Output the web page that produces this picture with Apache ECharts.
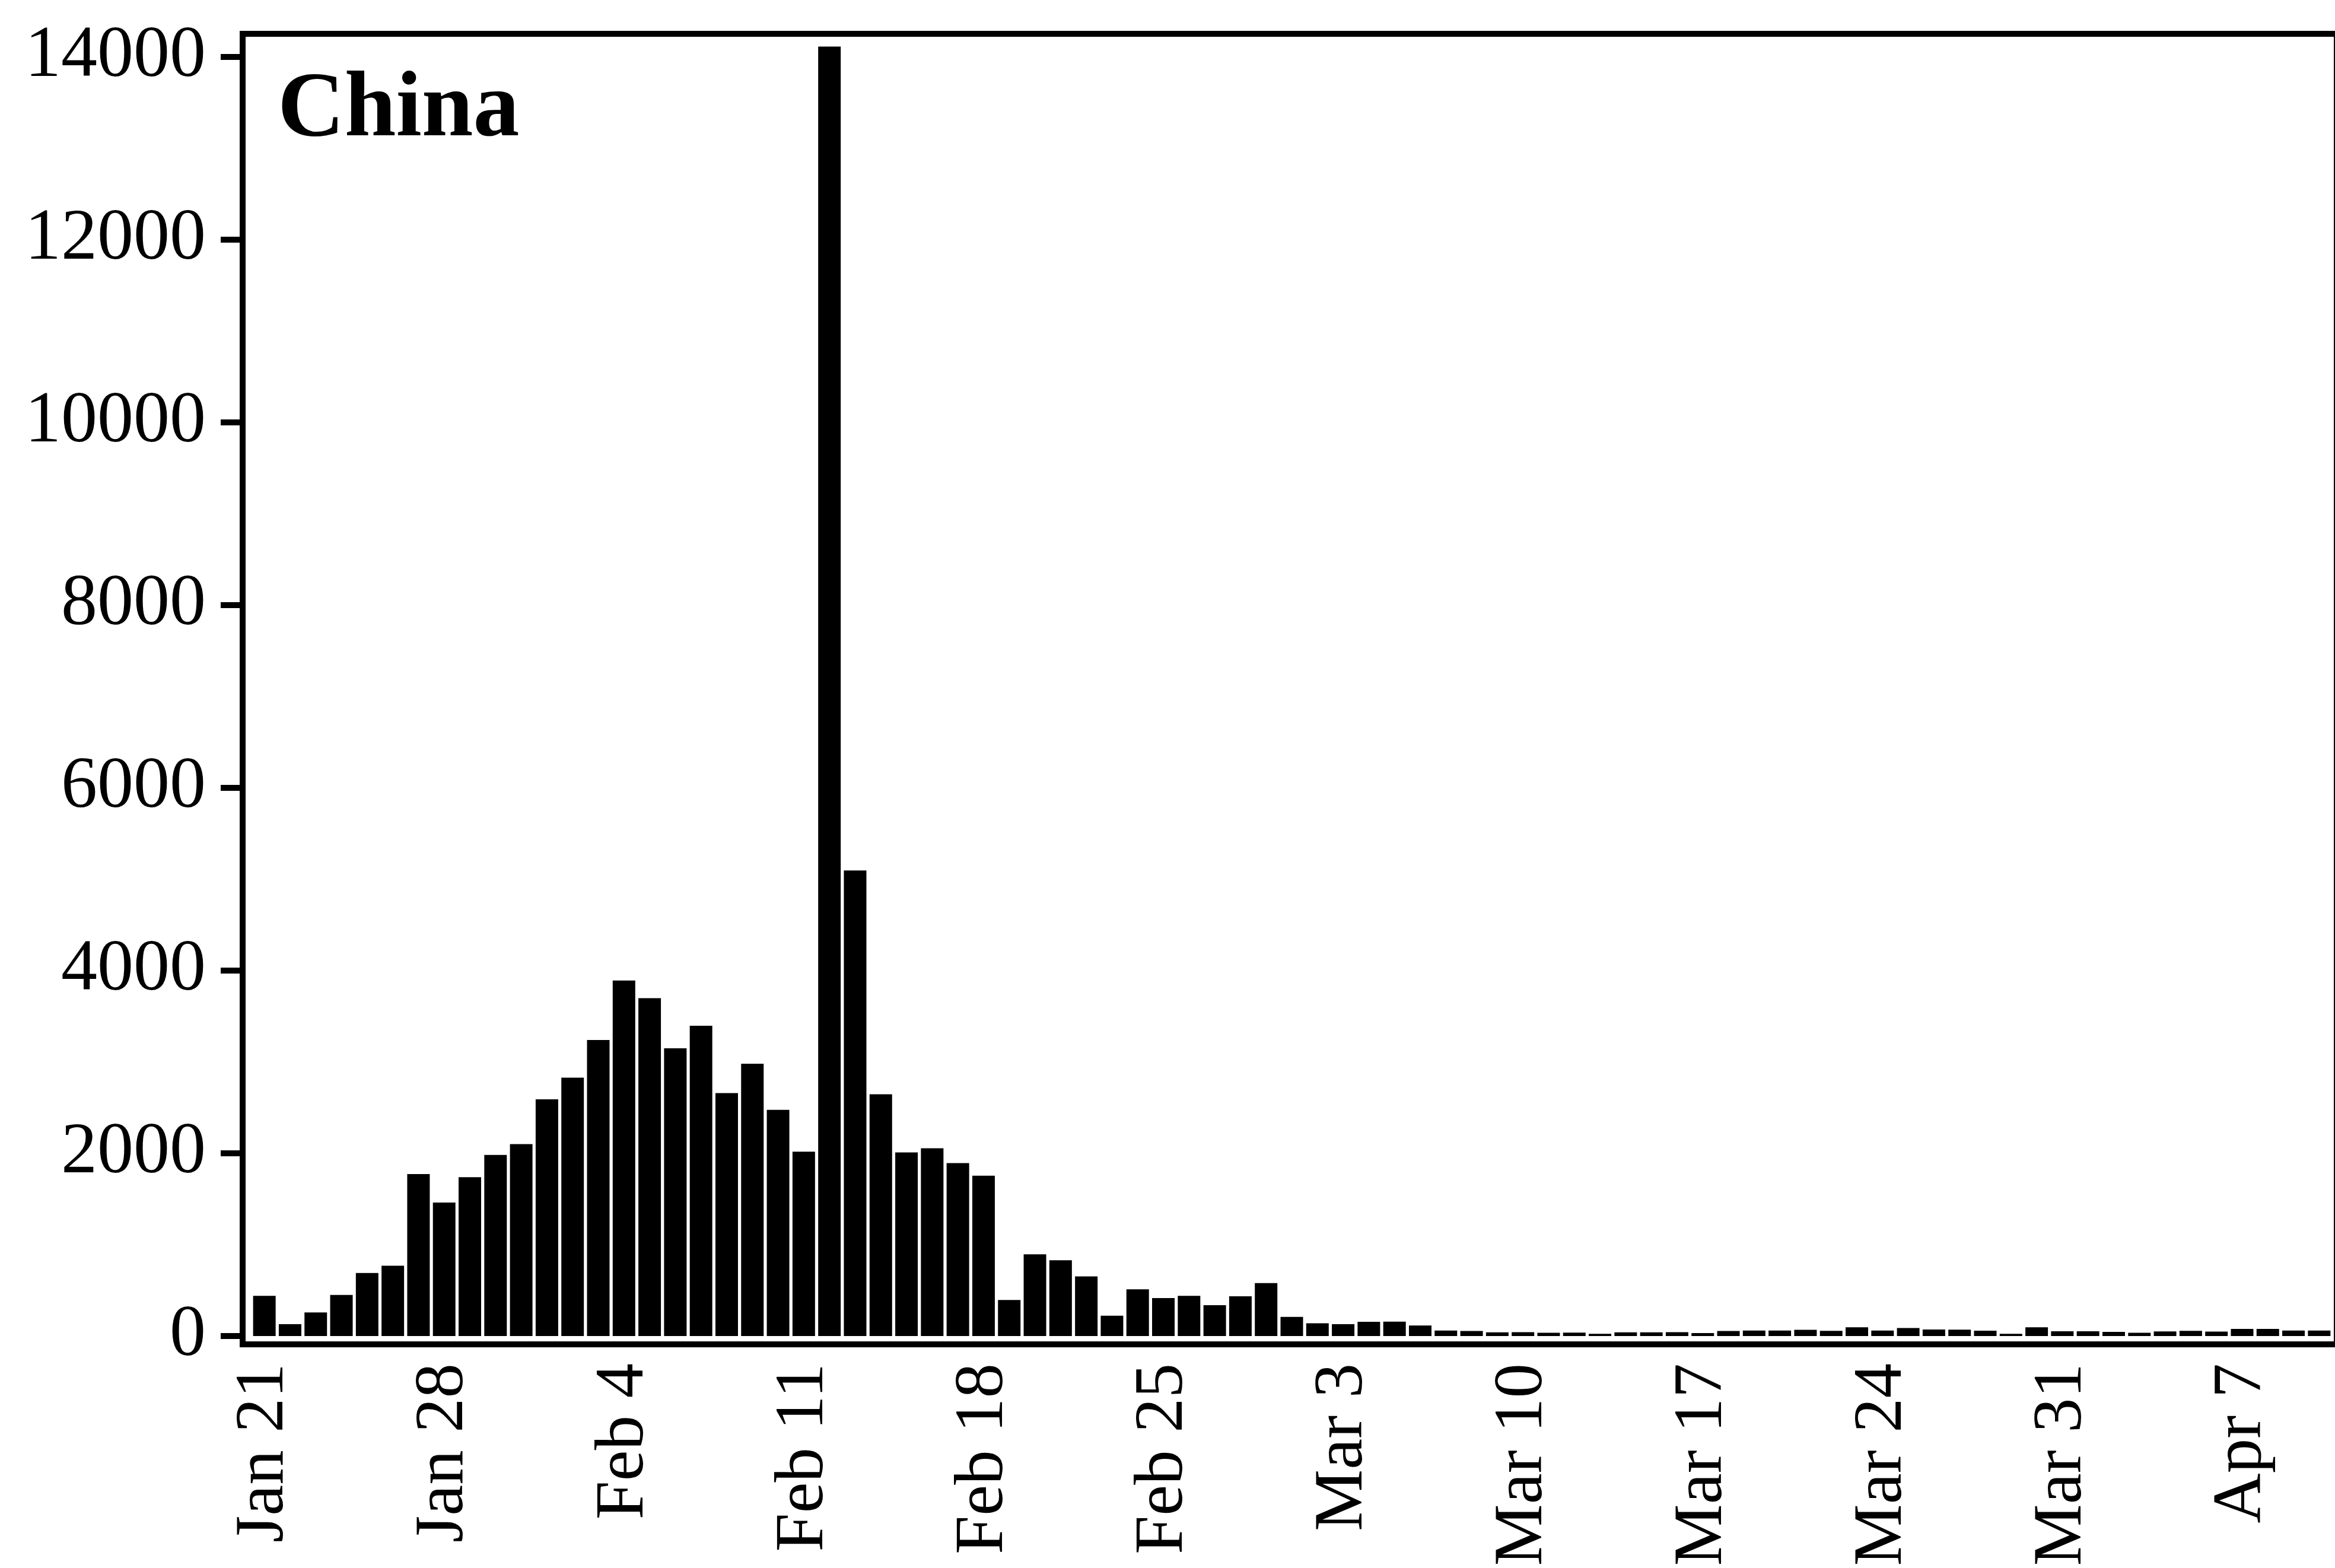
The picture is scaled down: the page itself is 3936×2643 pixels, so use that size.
<!DOCTYPE html>
<html>
<head>
<meta charset="utf-8">
<script src="https://cdn.jsdelivr.net/npm/echarts@6/dist/echarts.min.js"></script>
<style>
html,body{margin:0;padding:0;background:#fff;}
#c{width:3936px;height:2643px;}
</style>
</head>
<body>
<div id="c"></div>
<script>
const panelTitle = 'China';
const dates = [
 'Jan 21','Jan 22','Jan 23','Jan 24','Jan 25','Jan 26','Jan 27','Jan 28','Jan 29','Jan 30','Jan 31',
 'Feb 1','Feb 2','Feb 3','Feb 4','Feb 5','Feb 6','Feb 7','Feb 8','Feb 9','Feb 10',
 'Feb 11','Feb 12','Feb 13','Feb 14','Feb 15','Feb 16','Feb 17','Feb 18','Feb 19','Feb 20',
 'Feb 21','Feb 22','Feb 23','Feb 24','Feb 25','Feb 26','Feb 27','Feb 28','Feb 29',
 'Mar 1','Mar 2','Mar 3','Mar 4','Mar 5','Mar 6','Mar 7','Mar 8','Mar 9','Mar 10',
 'Mar 11','Mar 12','Mar 13','Mar 14','Mar 15','Mar 16','Mar 17','Mar 18','Mar 19','Mar 20',
 'Mar 21','Mar 22','Mar 23','Mar 24','Mar 25','Mar 26','Mar 27','Mar 28','Mar 29','Mar 30','Mar 31',
 'Apr 1','Apr 2','Apr 3','Apr 4','Apr 5','Apr 6','Apr 7','Apr 8','Apr 9','Apr 10'
];
const newCases = [
 440,130,258,450,690,770,1772,1460,1738,1982,2100,
 2590,2828,3240,3890,3698,3148,3396,2658,2980,2475,
 2018,14110,5095,2645,2010,2055,1892,1755,395,895,
 830,652,222,512,415,440,338,435,580,
 210,140,130,155,158,115,60,55,40,42,
 35,38,25,40,40,42,32,55,60,60,
 68,56,95,60,88,72,70,58,25,95,52,
 52,46,35,50,56,48,78,78,60,60
];
const yTicks = [0,2000,4000,6000,8000,10000,12000,14000];
const yMax = 14250;

const FONT = 'Liberation Serif';
const chart = echarts.init(document.getElementById('c'), null, {renderer:'canvas', devicePixelRatio:1});
chart.setOption({
  animation:false,
  backgroundColor:'#fff',
  title:{
    text:panelTitle, left:468, top:110, padding:0,
    textStyle:{fontFamily:FONT, fontWeight:'bold', fontSize:156, color:'#000'}
  },
  grid:{left:424, right:5, top:57, bottom:391, containLabel:false},
  xAxis:{
    type:'category', data:dates, boundaryGap:true,
    axisLine:{show:false}, axisTick:{show:false}, splitLine:{show:false},
    axisLabel:{interval:6, rotate:90, margin:46, fontFamily:FONT, fontSize:117, color:'#000'}
  },
  yAxis:{
    type:'value', min:0, max:yMax, interval:2000, offset:15,
    axisLine:{show:false}, splitLine:{show:false},
    axisTick:{show:true, length:37, customValues:yTicks, lineStyle:{color:'#000', width:10}},
    axisLabel:{margin:62, customValues:yTicks, formatter:function(v){return String(v);},
      fontFamily:FONT, fontSize:122, color:'#000'}
  },
  graphic:[{
    type:'rect', silent:true, z:10,
    shape:{x:409, y:57, width:3530, height:2209},
    style:{fill:'none', stroke:'#000', lineWidth:10}
  }],
  series:[{
    type:'bar', data:newCases, barWidth:38,
    itemStyle:{color:'#000'}
  }]
});
</script>
</body>
</html>
